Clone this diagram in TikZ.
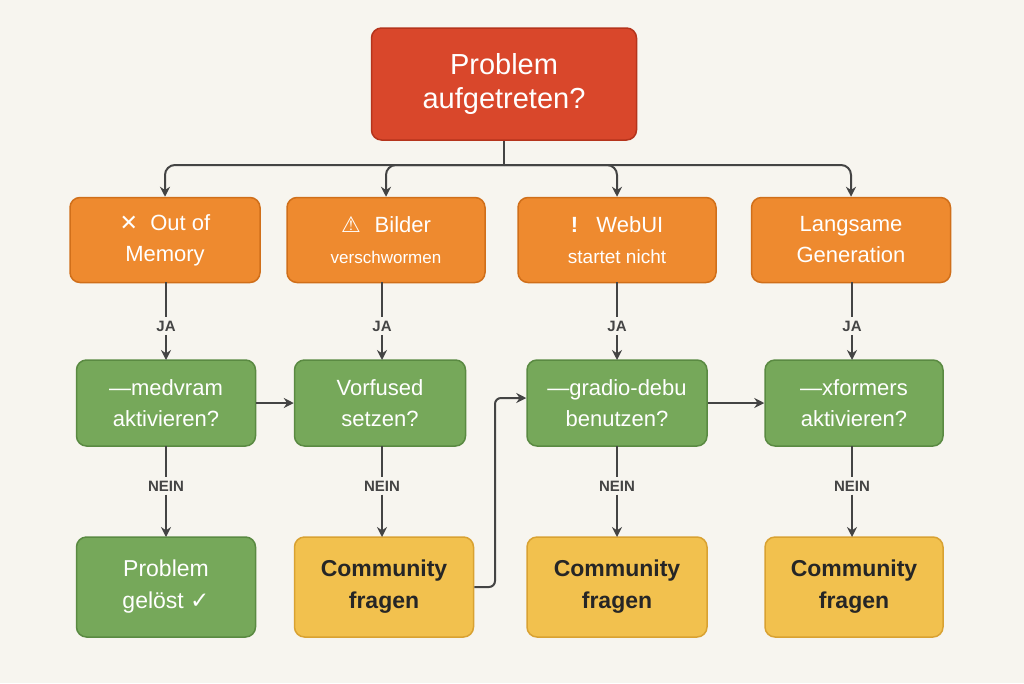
\documentclass[tikz,border=0pt]{standalone}
\usepackage{fontspec}
\setmainfont{Liberation Sans}
\newfontfamily\symf{DejaVu Sans}
\usetikzlibrary{arrows.meta}
\definecolor{bg}{HTML}{F7F5EF}
\definecolor{redf}{HTML}{D9472B}\definecolor{redd}{HTML}{B5341C}
\definecolor{orf}{HTML}{EE8A2F}\definecolor{ord}{HTML}{D06F1A}
\definecolor{grf}{HTML}{76A85A}\definecolor{grd}{HTML}{5A8A42}
\definecolor{yef}{HTML}{F2C14E}\definecolor{yed}{HTML}{D9A232}
\definecolor{ln}{HTML}{444444}
\tikzset{
 box/.style={rectangle,rounded corners=10pt,line width=1.5pt,align=center,inner sep=0pt},
 red/.style={box,fill=redf,draw=redd,text=white,font=\fontsize{29}{34}\selectfont},
 ora/.style={box,fill=orf,draw=ord,text=white,minimum width=190pt,minimum height=85pt,font=\fontsize{22}{31}\selectfont},
 gre/.style={box,fill=grf,draw=grd,text=white,minimum width=179pt,minimum height=86pt,font=\fontsize{22}{31}\selectfont},
 yel/.style={box,fill=yef,draw=yed,text=black!85,minimum width=179pt,minimum height=100pt,font=\bfseries\fontsize{23}{32}\selectfont},
 lab/.style={text=ln,font=\bfseries\fontsize{15}{18}\selectfont},
 con/.style={draw=ln,line width=2pt,-{Stealth[length=10pt,width=10pt]}},
 seg/.style={draw=ln,line width=2pt}
}
\begin{document}
\begin{tikzpicture}[x=1pt,y=-1pt]
\fill[bg] (0,0) rectangle (1024,683);
\useasboundingbox (0,0) rectangle (1024,683);
\node[red,minimum width=265pt,minimum height=112pt] (top) at (504,84) {Problem\\aufgetreten?};
\node[ora] (o1) at (165,240) {\symf\bfseries ✕\rmfamily\mdseries\ \ Out of\\Memory};
\node[ora,minimum width=198pt] (o2) at (386,240) {\symf ⚠\ \ \rmfamily Bilder\\{\fontsize{17}{22}\selectfont verschwormen}};
\node[ora,minimum width=198pt] (o3) at (617,240) {\textbf{!}\ \ \ WebUI\\{\fontsize{19}{22}\selectfont startet nicht}};
\node[ora,minimum width=199pt] (o4) at (851,240) {Langsame\\Generation};
\node[gre] (g1) at (166,403) {—medvram\\aktivieren?};
\node[gre,minimum width=171pt] (g2) at (380,403) {Vorfused\\setzen?};
\node[gre,minimum width=180pt] (g3) at (617,403) {—gradio-debu\\benutzen?};
\node[gre,minimum width=178pt] (g4) at (854,403) {—xformers\\aktivieren?};
\node[yel,fill=grf,draw=grd,text=white,font=\fontsize{23}{32}\selectfont] (y1) at (166,587) {Problem\\gelöst {\symf ✓}};
\node[yel] (y2) at (384,587) {Community\\fragen};
\node[yel,minimum width=180pt] (y3) at (617,587) {Community\\fragen};
\node[yel,minimum width=178pt] (y4) at (854,587) {Community\\fragen};
\coordinate (j) at (504,165);
\draw[seg] (top.south) -- (j);
\foreach \o in {o1,o2,o3,o4}{
 \draw[con,rounded corners=10pt] (j) -| (\o.north);
}
\foreach \o/\g/\y/\x in {o1/g1/y1/166,o2/g2/y2/382,o3/g3/y3/617,o4/g4/y4/852}{
 \node[lab] (ja\o) at (\x,326) {JA};
 \draw[seg] (\x,282) -- (ja\o.north);
 \draw[con] (ja\o.south) -- (\x,360);
 \node[lab] (ne\o) at (\x,486) {NEIN};
 \draw[seg] (\x,446) -- (ne\o.north);
 \draw[con] (ne\o.south) -- (\x,537);
}
\draw[con] (g1.east) -- (g2.west);
\draw[con] (g3.east) -- (g4.west);
\draw[con,rounded corners=6pt] (y2.east) -- (495,587) -- (495,398) -- (g3.west |- 0,398);
\end{tikzpicture}
\end{document}
